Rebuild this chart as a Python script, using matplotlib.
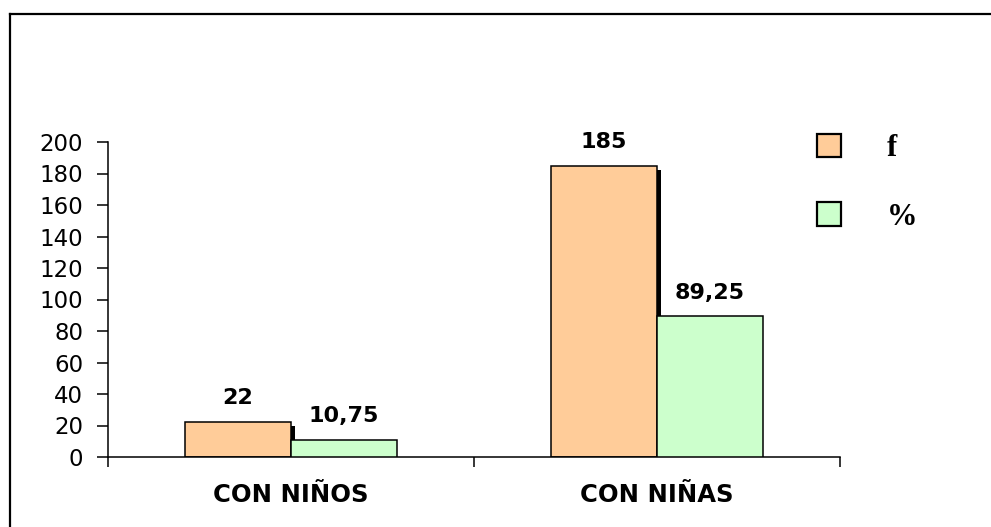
import matplotlib
matplotlib.use("Agg")
import matplotlib.pyplot as plt
from matplotlib.lines import Line2D
import numpy as np

categories = ["CON NIÑOS", "CON NIÑAS"]
series_names = ["f", "%"]
f_values = [22, 185]
pct_values = [10.75, 89.25]
f_labels = ["22", "185"]
pct_labels = ["10,75", "89,25"]
y_ticks = [0, 20, 40, 60, 80, 100, 120, 140, 160, 180, 200]

plt.rcParams['font.family'] = ['DejaVu Sans']

W, H = 991, 527
fig = plt.figure(figsize=(W / 100, H / 100), dpi=100)
ax = fig.add_axes([108 / W, 1 - 457 / H, (840 - 108) / W, (457 - 142) / H])

x = np.arange(len(categories))
bw = 0.29
orange = "#FFCC99"
green = "#CCFFCC"

# shadow for orange bars
sh_dx = 0.011
sh_dy = 2.6
ax.bar(x - bw / 2 + sh_dx, [v - sh_dy for v in f_values], bw, color="black",
       zorder=1, linewidth=0)
b1 = ax.bar(x - bw / 2, f_values, bw, color=orange, edgecolor="black",
            linewidth=1.1, zorder=2, label=series_names[0])
b2 = ax.bar(x + bw / 2, pct_values, bw, color=green, edgecolor="black",
            linewidth=1.1, zorder=3, label=series_names[1])

for xi, v, lab in zip(x, f_values, f_labels):
    ax.annotate(lab, (xi - bw / 2, v), xytext=(0, 10), textcoords="offset points",
                ha="center", va="bottom", fontsize=16, fontweight="bold")
for xi, v, lab in zip(x, pct_values, pct_labels):
    ax.annotate(lab, (xi + bw / 2, v), xytext=(0, 10), textcoords="offset points",
                ha="center", va="bottom", fontsize=16, fontweight="bold")

ax.set_xlim(-0.5, len(categories) - 0.5)
ax.set_ylim(0, 200)
ax.set_yticks(y_ticks)
ax.tick_params(axis="y", direction="out", length=8, width=1.1, labelsize=16.5, pad=10)
ax.set_xticks(np.arange(len(categories) + 1) - 0.5)
ax.set_xticklabels([])
ax.tick_params(axis="x", which="major", direction="out", length=7, width=1.1)
ax.set_xticks(x, minor=True)
ax.set_xticklabels(categories, minor=True, fontsize=17.5, fontweight="bold")
ax.tick_params(axis="x", which="minor", length=0, pad=19)

for s in ["top", "right"]:
    ax.spines[s].set_visible(False)
for s in ["left", "bottom"]:
    ax.spines[s].set_linewidth(1.1)

leg = ax.legend(handles=[b1, b2], loc="upper left",
                bbox_to_anchor=(789 / W, 1 - 106 / H), bbox_transform=fig.transFigure,
                frameon=False, handlelength=0.79, handleheight=0.79,
                handletextpad=1.5, labelspacing=1.3,
                prop={"family": ["Liberation Serif", "DejaVu Serif"], "weight": "bold", "size": 22})
for h in leg.legend_handles:
    h.set_linewidth(1.6)

# figure border (top and left)
fig.add_artist(Line2D([10 / W, 10 / W], [0, 1 - 14 / H], transform=fig.transFigure,
                      color="black", linewidth=1.6))
fig.add_artist(Line2D([10 / W, 1], [1 - 14 / H, 1 - 14 / H], transform=fig.transFigure,
                      color="black", linewidth=1.6))

fig.savefig("out.png", dpi=100)
